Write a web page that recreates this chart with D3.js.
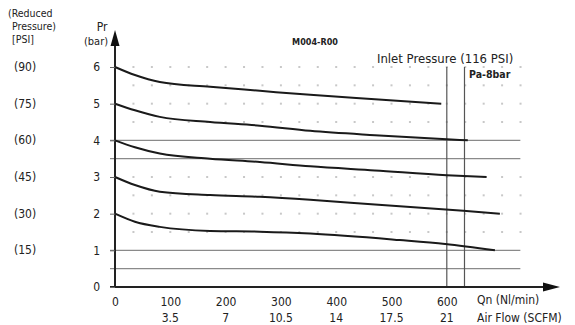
<!DOCTYPE html>
<html><head><meta charset="utf-8">
<script src="https://cdn.jsdelivr.net/npm/d3@7"></script>
<style>
html,body{margin:0;padding:0;background:#fff;}
svg{display:block;}
text{font-family:"Liberation Sans Narrow","DejaVu Sans Condensed","Liberation Sans",Arial,sans-serif;fill:#222;}
</style></head><body>
<svg id="c" width="575" height="325"></svg>
<script>
// ---- data ----
const flowTicks = [0, 100, 200, 300, 400, 500, 600];
const scfmLabels = ["", "3.5", "7", "10.5", "14", "17.5", "21"];
const barTicks = [0, 1, 2, 3, 4, 5, 6];
const psiLabels = ["(90)", "(75)", "(60)", "(45)", "(30)", "(15)"];
const psiLevels = [6, 5, 4, 3, 2, 1];
const curve90 = [[0,6],[36,5.78],[81,5.59],[172,5.46],[262,5.35],[353,5.24],[470,5.12],[590,5.0]];
const curve75 = [[0,5],[36,4.82],[81,4.64],[172,4.5],[262,4.4],[353,4.26],[470,4.14],[600,4.03],[638,4.0]];
const curve60 = [[0,4],[36,3.81],[81,3.64],[172,3.5],[262,3.41],[353,3.29],[470,3.18],[600,3.05],[672,3.0]];
const curve45 = [[0,3],[36,2.78],[81,2.6],[172,2.51],[262,2.46],[353,2.38],[470,2.25],[630,2.08],[696,2.0]];
const curve30 = [[0,2],[36,1.78],[81,1.64],[172,1.53],[262,1.51],[353,1.46],[515,1.28],[597,1.17],[687,1.0]];
const curves = [curve90, curve75, curve60, curve45, curve30];
const refLines = [4, 3.5, 1, 0.5];      // solid horizontal lines (bar)
const flowLines = [600, 632];           // vertical lines (Nl/min)
const dotRows = [6, 5.5, 5, 4.5, 3, 2.5, 2, 1.5];
const dotCols = d3.range(1, 23).map(k => k * 100 / 3);

// ---- scales ----
const svg = d3.select("#c");
const x = d3.scaleLinear().domain([0, 100]).range([115, 170.3]);
const y = d3.scaleLinear().domain([0, 6]).range([287, 67]);
const xEnd = x(733);

// dotted grid
const g = svg.append("g");
dotRows.forEach(r => {
  g.selectAll(null).data(dotCols).enter().append("rect")
    .attr("x", d => x(d) - 1).attr("y", y(r) - 1)
    .attr("width", 2).attr("height", 2).attr("fill", "#c8c8c8");
});

// reference horizontal lines
svg.selectAll(".ref").data(refLines).enter().append("line")
  .attr("x1", x(0) - 5).attr("x2", xEnd)
  .attr("y1", d => y(d)).attr("y2", d => y(d))
  .attr("stroke", "#8a8a8a").attr("stroke-width", 1.2);

// vertical lines
svg.selectAll(".vl").data(flowLines).enter().append("line")
  .attr("x1", d => x(d)).attr("x2", d => x(d))
  .attr("y1", y(0)).attr("y2", y(6))
  .attr("stroke", "#555").attr("stroke-width", 1.2);

// curves
const line = d3.line().x(d => x(d[0])).y(d => y(d[1])).curve(d3.curveMonotoneX);
svg.selectAll(".cv").data(curves).enter().append("path")
  .attr("d", line).attr("fill", "none")
  .attr("stroke", "#1a1a1a").attr("stroke-width", 2);

// axes lines with arrows
svg.append("line").attr("x1", x(0)).attr("x2", x(0)).attr("y1", y(0)).attr("y2", 40)
  .attr("stroke", "#222").attr("stroke-width", 2);
svg.append("path").attr("d", `M${x(0)},30 L${x(0)-4.5},46 L${x(0)+4.5},46 Z`).attr("fill", "#111");
svg.append("line").attr("x1", x(0) - 5).attr("x2", 548).attr("y1", y(0)).attr("y2", y(0))
  .attr("stroke", "#222").attr("stroke-width", 2);
svg.append("path").attr("d", `M560,${y(0)} L543,${y(0)-4.5} L543,${y(0)+4.5} Z`).attr("fill", "#111");

// y tick marks & labels
const yAxis = d3.axisLeft(y).tickValues(barTicks).tickSize(5).tickPadding(10).tickFormat(d3.format("d"));
const ya = svg.append("g").attr("transform", `translate(${x(0)},0)`).call(yAxis);
ya.select(".domain").remove();
ya.selectAll("line").attr("stroke", "#666");
ya.selectAll("text").style("font-size", "12px").style("font-family", null).attr("fill", "#222");

// x tick labels
const xAxis = d3.axisBottom(x).tickValues(flowTicks).tickSize(0).tickPadding(10).tickFormat(d3.format("d"));
const xa = svg.append("g").attr("transform", `translate(0,${y(0)})`).call(xAxis);
xa.select(".domain").remove();
xa.selectAll("text").style("font-size", "12px").style("font-family", null).attr("fill", "#222");
svg.selectAll(".scfm").data(flowTicks).enter().append("text")
  .attr("x", d => x(d)).attr("y", 322).attr("text-anchor", "middle")
  .style("font-size", "12px").text((d, i) => scfmLabels[i]);

// PSI labels
svg.selectAll(".psi").data(psiLevels).enter().append("text")
  .attr("x", 14).attr("y", d => y(d) + 4)
  .style("font-size", "12px").text((d, i) => psiLabels[i]);

// titles
const t = (txt, xx, yy, size, anchor, weight) => svg.append("text").attr("x", xx).attr("y", yy)
  .attr("text-anchor", anchor || "start").style("font-size", size + "px")
  .style("font-weight", weight || "normal").text(txt);
t("(Reduced", 8, 17, 10.5);
t("Pressure)", 12, 30, 10.5);
t("[PSI]", 12, 43, 10.5);
t("Pr", 102, 31, 12, "middle");
t("(bar)", 96, 45, 11, "middle");
t("M004-R00", 315, 45, 9, "middle", "bold");
t("Inlet Pressure (116 PSI)", 377, 63, 13);
t("Pa-8bar", 469, 78, 10.5, "start", "bold");
t("Qn (Nl/min)", 477, 304, 12);
t("Air Flow (SCFM)", 477, 322, 12);
</script>
</body></html>
